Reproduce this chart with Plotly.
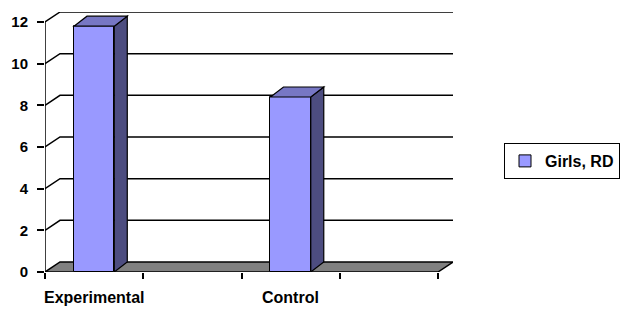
import plotly.graph_objects as go

# ---- data ----
categories = ["Experimental", "Control"]
series_name = "Girls, RD"
values = [11.8, 8.4]
y_ticks = [0, 2, 4, 6, 8, 10, 12]

# ---- layout constants (pixel geometry of the 3D look) ----
W, H = 626, 309
L, R, T, B = 45, 173, 12, 37
plot_w = W - L - R            # 408
plot_h = H - T - B            # 260
y_max_front = 12
px_per_y = (plot_h - 10) / y_max_front
depth_dy = 10 / px_per_y      # floor/wall depth in y units
n_slots = 4                   # 2 categories x 2 cluster slots
px_per_x = (plot_w - 15) / n_slots
depth_dx = 15 / px_per_x
bar_dx = 13 / px_per_x
bar_dy = 10 / px_per_y
bar_w = 0.41

x_pos = [i * 2 + 0.5 for i in range(len(categories))]

FONT = "Liberation Sans Narrow, Arial Narrow, Liberation Sans, Arial, sans-serif"

fig = go.Figure()
fig.add_trace(go.Bar(
    x=x_pos, y=values, width=bar_w, name=series_name,
    marker=dict(color="#9999FF", line=dict(color="black", width=1)),
    showlegend=True,
))

shapes = []
# back wall gridlines with left-wall diagonals
for v in y_ticks[1:]:
    shapes.append(dict(
        type="path", layer="below",
        path=f"M 0 {v} L {depth_dx} {v + depth_dy} L {n_slots + depth_dx} {v + depth_dy}",
        line=dict(color="black", width=1.5)))
# floor
shapes.append(dict(
    type="path", layer="below",
    path=f"M 0 0 L {n_slots} 0 L {n_slots + depth_dx} {depth_dy} L {depth_dx} {depth_dy} Z",
    fillcolor="#808080", line=dict(color="black", width=1.5)))
# y axis line
shapes.append(dict(type="line", layer="below", x0=0, x1=0, y0=0, y1=y_max_front,
                   line=dict(color="black", width=1.5)))
# bar 3D faces
for xc, v in zip(x_pos, values):
    x0, x1 = xc - bar_w / 2, xc + bar_w / 2
    shapes.append(dict(
        type="path", layer="above",
        path=f"M {x1} 0 L {x1 + bar_dx} {bar_dy} L {x1 + bar_dx} {v + bar_dy} L {x1} {v} Z",
        fillcolor="#4D4D80", line=dict(color="black", width=1.2)))
    shapes.append(dict(
        type="path", layer="above",
        path=f"M {x0} {v} L {x0 + bar_dx} {v + bar_dy} L {x1 + bar_dx} {v + bar_dy} L {x1} {v} Z",
        fillcolor="#7777C4", line=dict(color="black", width=1.2)))

annotations = []
for xc, c in zip(x_pos, categories):
    annotations.append(dict(
        x=xc, y=0, xref="x", yref="paper", text=c, showarrow=False,
        yanchor="middle", xanchor="center", yshift=-25,
        font=dict(family=FONT, size=16, color="black", weight="bold")))

fig.update_layout(
    width=W, height=H,
    margin=dict(l=L, r=R, t=T, b=B, pad=0, autoexpand=False),
    paper_bgcolor="white", plot_bgcolor="white",
    bargap=0,
    shapes=shapes,
    annotations=annotations,
    xaxis=dict(range=[0, n_slots * plot_w / (plot_w - 15)],
               tickvals=list(range(n_slots + 1)),
               ticktext=[""] * (n_slots + 1),
               ticks="outside", ticklen=6, tickcolor="black", tickwidth=1.5,
               showgrid=False, zeroline=False, showline=False, fixedrange=True,
               automargin=False),
    yaxis=dict(range=[0, y_max_front + depth_dy],
               tickvals=y_ticks, ticktext=[str(t) for t in y_ticks],
               ticks="outside", ticklen=7, tickcolor="black", tickwidth=1.5,
               ticklabelstandoff=6,
               tickfont=dict(family=FONT, size=15, color="black", weight="bold"),
               showgrid=False, zeroline=False, showline=False, fixedrange=True,
               automargin=False),
    legend=dict(x=(504 - L) / plot_w, y=(T + plot_h - 143) / plot_h,
                xanchor="left", yanchor="top",
                bordercolor="black", borderwidth=1, bgcolor="white",
                font=dict(family=FONT, size=16, color="black", weight="bold"),
                itemwidth=30, tracegroupgap=0),
)

fig.write_html(
    "out.html",
    config={"displayModeBar": False},
    post_script="document.body.style.margin='0';document.body.style.overflow='hidden';",
)
